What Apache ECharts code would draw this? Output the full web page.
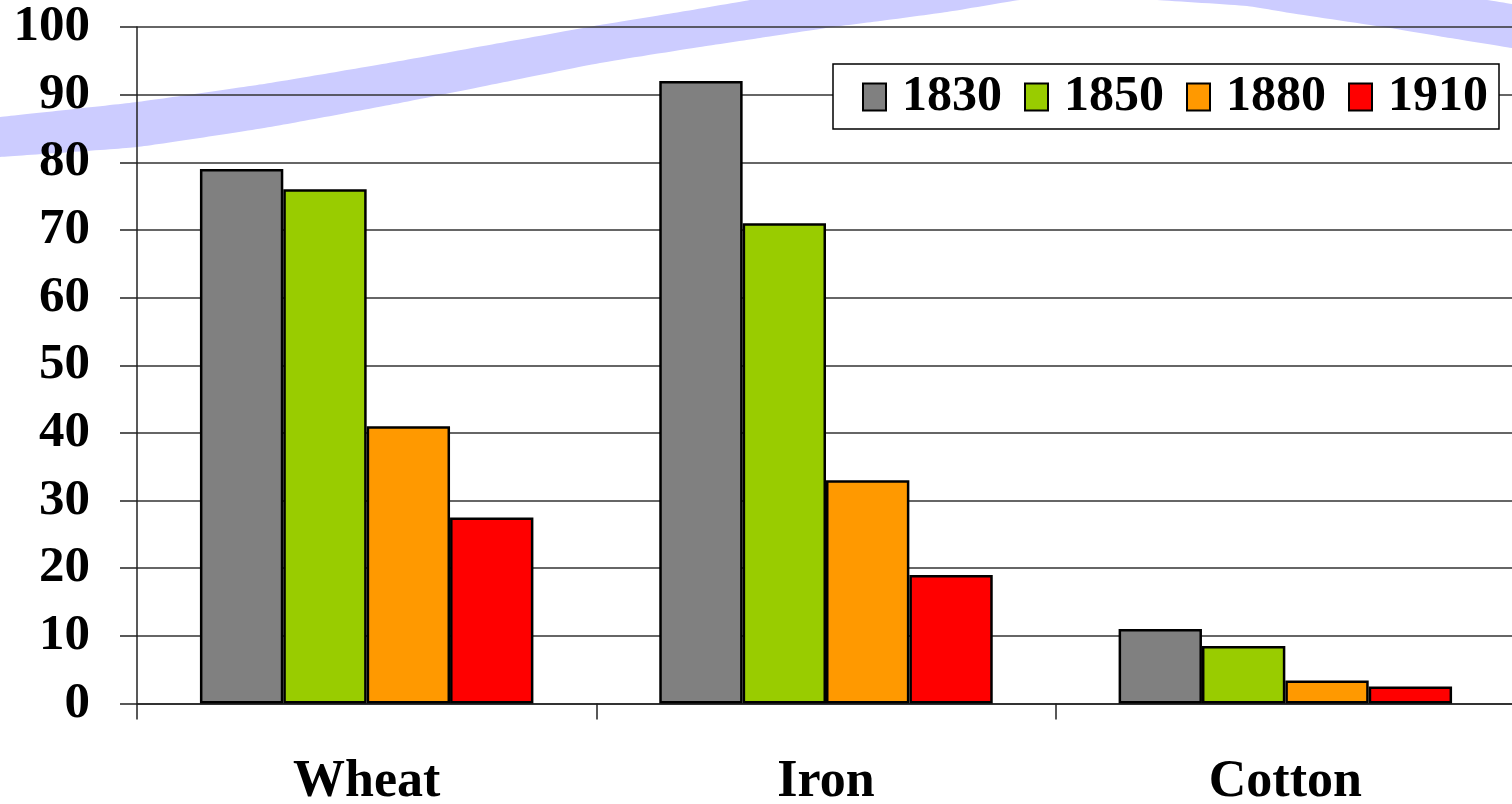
<!DOCTYPE html>
<html>
<head>
<meta charset="utf-8">
<script src="https://cdn.jsdelivr.net/npm/echarts@6/dist/echarts.min.js"></script>
<style>
  html, body { margin: 0; padding: 0; background: #ffffff; }
  #chart { width: 1512px; height: 804px; }
</style>
</head>
<body>
<div id="chart"></div>
<script>
// Commodities shown on the category axis
const categories = ['Wheat', 'Iron', 'Cotton'];

// Values per year (one array per series, ordered as categories)
const years = ['1830', '1850', '1880', '1910'];
const values1830 = [79, 92, 11];
const values1850 = [76, 71, 8.5];
const values1880 = [41, 33, 3.4];
const values1910 = [27.5, 19, 2.5];

// Value axis range
const yMin = 0;
const yMax = 100;
const yStep = 10;

const seriesColors = ['#808080', '#99CC00', '#FF9900', '#FF0000'];
const seriesValues = [values1830, values1850, values1880, values1910];

const FONT = '"Liberation Serif", "Times New Roman", serif';

// Outline of the decorative brush stroke: upper edge left→right, then lower edge right→left
const swooshOutline = [
  [-30, 120], [0, 117], [137, 102], [270, 83], [400, 61], [500, 43], [600, 25],
  [680, 12], [750, 0], [900, -26], [1090, -45], [1300, -30], [1400, -14],
  [1487, 0], [1512, 4], [1540, 9],
  [1540, 53], [1512, 48], [1450, 38], [1390, 28], [1290, 13], [1247, 6], [1157, 0],
  [1090, -7], [1020, 0], [947, 12], [880, 21], [833, 27], [760, 38], [700, 47],
  [600, 63], [500, 83], [400, 103], [270, 127], [137, 147], [0, 157], [-30, 160]
];

const chart = echarts.init(document.getElementById('chart'), null, { renderer: 'canvas' });

chart.setOption({
  animation: false,
  backgroundColor: '#ffffff',
  textStyle: { fontFamily: FONT },
  graphic: [{
    type: 'polygon',
    z: -10,
    silent: true,
    shape: { points: swooshOutline, smooth: 0.15 },
    style: { fill: '#CCCCFF', stroke: null }
  }],
  legend: {
    data: years,
    left: 833,
    top: 64,
    padding: [8, 11, 7, 29],
    itemGap: 22,
    itemWidth: 23,
    itemHeight: 27,
    icon: 'rect',
    backgroundColor: '#ffffff',
    borderColor: '#000000',
    borderWidth: 1.5,
    borderRadius: 0,
    textStyle: {
      fontFamily: FONT,
      fontWeight: 'bold',
      fontSize: 50,
      color: '#000000',
      padding: [0, 0, 0, 11]
    }
  },
  grid: {
    left: 137,
    right: -3,
    top: 27,
    bottom: 100.5,
    containLabel: false,
    outerBoundsMode: 'none'
  },
  xAxis: {
    type: 'category',
    data: categories,
    boundaryGap: true,
    axisLine: { show: true, lineStyle: { color: '#222222', width: 1.5 } },
    axisTick: { show: true, length: 16, lineStyle: { color: '#222222', width: 1.5 } },
    axisLabel: {
      margin: 53,
      fontFamily: FONT,
      fontWeight: 'bold',
      fontSize: 52,
      color: '#000000'
    },
    splitLine: { show: false }
  },
  yAxis: {
    type: 'value',
    min: yMin,
    max: yMax,
    interval: yStep,
    axisLine: { show: true, lineStyle: { color: '#222222', width: 1.5 } },
    axisTick: { show: true, length: 17, lineStyle: { color: '#222222', width: 1.5 } },
    axisLabel: {
      margin: 47,
      fontFamily: FONT,
      fontWeight: 'bold',
      fontSize: 51,
      color: '#000000'
    },
    splitLine: { show: true, lineStyle: { color: '#333333', width: 1.5 } }
  },
  series: years.map((y, i) => ({
    name: y,
    type: 'bar',
    data: seriesValues[i],
    barGap: '0%',
    barCategoryGap: '27.4%',
    itemStyle: {
      color: seriesColors[i],
      borderColor: '#000000',
      borderWidth: 2.5
    }
  }))
});
</script>
</body>
</html>
